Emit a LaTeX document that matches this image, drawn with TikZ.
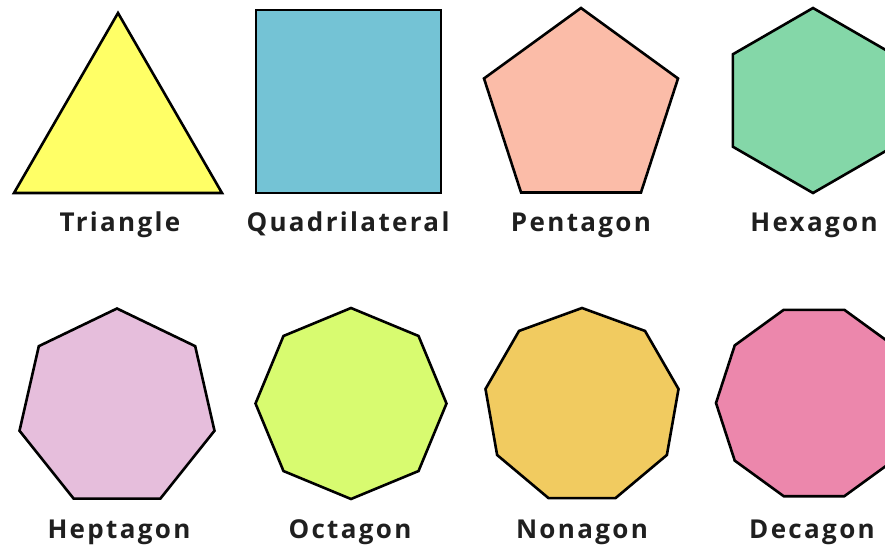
\documentclass[tikz,border=0pt]{standalone}
\usepackage{fontspec}
\setmainfont{Open Sans}[LetterSpace=9]
\usetikzlibrary{calc}
\definecolor{triYellow}{HTML}{FFFF66}
\definecolor{quadBlue}{HTML}{74C3D5}
\definecolor{pentPeach}{HTML}{FBBCA8}
\definecolor{hexGreen}{HTML}{84D7A8}
\definecolor{heptPink}{HTML}{E6BEDC}
\definecolor{octLime}{HTML}{D8FB70}
\definecolor{nonGold}{HTML}{F1CB60}
\definecolor{decRose}{HTML}{EC87AC}
\colorlet{ink}{black!88}

\begin{document}
\begin{tikzpicture}[x=1pt, y=-1pt,
  poly/.style={draw=black, line width=2.6pt, line join=miter},
  caption/.style={anchor=base, inner sep=0pt, text=ink,
    font=\fontsize{26}{30}\selectfont\bfseries}
]
  \clip (0,0) rectangle (885,546);
  \fill[white] (0,0) rectangle (885,546);

  % top row
  \draw[poly, fill=triYellow] (118,13) -- (222,193) -- (14,193) -- cycle;
  \draw[poly, fill=quadBlue] (256,10) rectangle (441,193);

  % regular polygons: centre x / centre y / radius / sides / first angle / colour
  \foreach \cx/\cy/\r/\n/\a/\col in {
      581/110/102/5/270/pentPeach,
      813/100.5/92.5/6/270/hexGreen,
      117/408.5/100/7/270/heptPink,
      351/403.5/95.5/8/270/octLime,
      582/406/98/9/270/nonGold,
      814/403/98/10/288/decRose}{
    \pgfmathtruncatemacro\m{\n-1}
    \draw[poly, fill=\col] ($(\cx,\cy)+(\a:\r)$)
      \foreach \k in {1,...,\m} { -- ($(\cx,\cy)+(\a+360*\k/\n:\r)$) } -- cycle;
  }

  % names
  \node[caption] (tri)  at (120,231) {Triangle};
  \node[caption] (quad) at (348,231) {Quadrilateral};
  \node[caption] (pent) at (581,231) {Pentagon};
  \node[caption] (hex)  at (814,231) {Hexagon};
  \node[caption] (hept) at (119,538) {Heptagon};
  \node[caption] (oct)  at (350,538) {Octagon};
  \node[caption] (non)  at (582,538) {Nonagon};
  \node[caption] (dec)  at (812,538) {Decagon};
\end{tikzpicture}
\end{document}
